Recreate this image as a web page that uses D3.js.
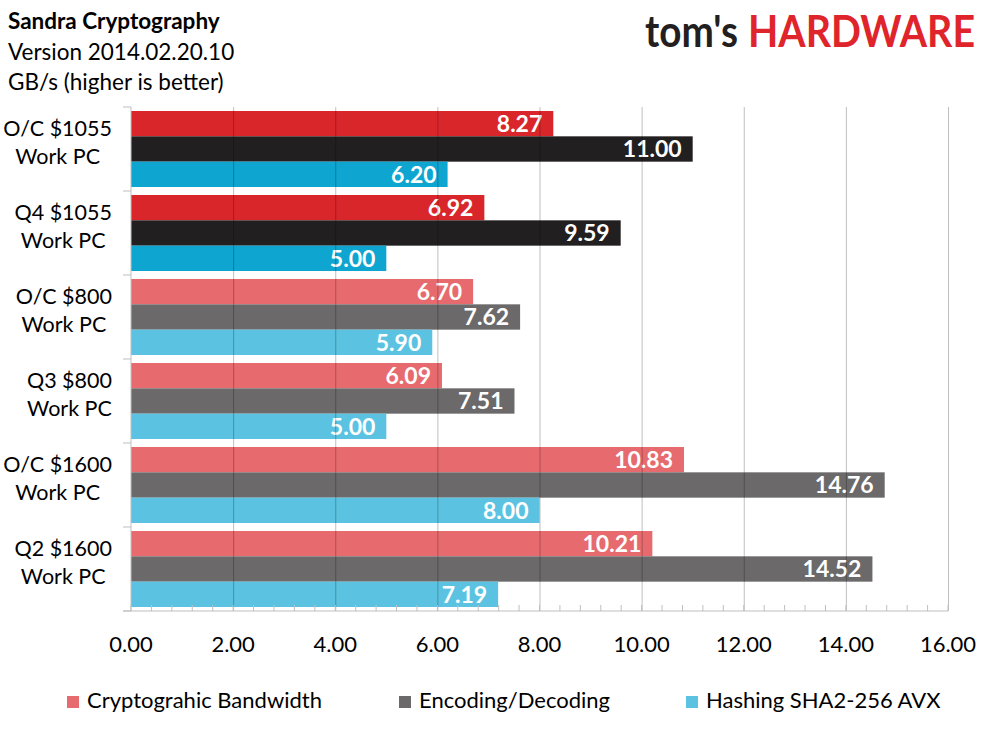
<!DOCTYPE html>
<html>
<head>
<meta charset="utf-8">
<script src="https://cdn.jsdelivr.net/npm/d3@7"></script>
<style>
  body { margin: 0; background: #fff; }
  svg { display: block; font-family: Lato, "Open Sans", sans-serif; }
</style>
</head>
<body>
<div class="chart_area"></div>
<script>
var categories = ["O/C $1055|Work PC", "Q4 $1055|Work PC", "O/C $800|Work PC",
                  "Q3 $800|Work PC", "O/C $1600|Work PC", "Q2 $1600|Work PC"];
var seriesNames = ["Cryptograhic Bandwidth", "Encoding/Decoding", "Hashing SHA2-256 AVX"];
var cryptoBw = [8.27, 6.92, 6.70, 6.09, 10.83, 10.21];
var encoding = [11.00, 9.59, 7.62, 7.51, 14.76, 14.52];
var hashing  = [6.20, 5.00, 5.90, 5.00, 8.00, 7.19];
var xTicks = [0, 2, 4, 6, 8, 10, 12, 14, 16];

// first two systems are drawn in the stronger palette
var strong = ["#d9262b", "#221f20", "#0ea5d1"];
var light  = ["#e66a6e", "#6b696a", "#5bc3e1"];

var width = 989, height = 742;
var margin = {top: 107, right: 41, bottom: 131, left: 131};

var svg = d3.select(".chart_area")
  .append("svg")
  .attr("width", width)
  .attr("height", height);

var x = d3.scaleLinear()
    .domain([0, 16])
    .range([margin.left, width - margin.right]);

var y = d3.scaleBand()
    .domain(categories)
    .range([margin.top, height - margin.bottom])
    .paddingInner(8 / 84)
    .paddingOuter(4 / 84);

var ySub = d3.scaleBand()
    .domain(seriesNames)
    .range([0, y.bandwidth()]);

var rows = categories.map(function(c, i) {
  return {cat: c, idx: i, values: [cryptoBw[i], encoding[i], hashing[i]]};
});

// bars
var groups = svg.selectAll("g.cat")
  .data(rows)
  .enter()
  .append("g")
    .attr("class", "cat")
    .attr("transform", function(d) { return "translate(0," + y(d.cat) + ")"; });

groups.selectAll("rect")
  .data(function(d) {
    return d.values.map(function(v, k) { return {v: v, k: k, idx: d.idx}; });
  })
  .enter()
  .append("rect")
    .attr("x", x(0))
    .attr("y", function(d) { return ySub(seriesNames[d.k]); })
    .attr("width", function(d) { return x(d.v) - x(0); })
    .attr("height", ySub.bandwidth())
    .style("fill", function(d) { return d.idx < 2 ? strong[d.k] : light[d.k]; });

// gridlines over the bars, semi transparent
var y0 = y.range()[0], y1 = y.range()[1];
svg.append("g")
  .attr("transform", "translate(0," + y1 + ")")
  .call(d3.axisBottom(x).tickValues(xTicks.slice(1)).tickSize(-(y1 - y0)).tickFormat(""))
  .call(function(g) {
    g.select(".domain").remove();
    g.selectAll("line").attr("stroke", "#000").attr("stroke-opacity", 0.25);
  });

// minor ticks, inside
var minor = d3.range(0, 16.01, 0.4);
svg.append("g")
  .selectAll("line")
  .data(minor)
  .enter()
  .append("line")
    .attr("x1", function(d) { return x(d); })
    .attr("x2", function(d) { return x(d); })
    .attr("y1", y1 - 6)
    .attr("y2", y1)
    .attr("stroke", "#bfbfbf");

// value labels
groups.selectAll("text.val")
  .data(function(d) {
    return d.values.map(function(v, k) { return {v: v, k: k}; });
  })
  .enter()
  .append("text")
    .attr("class", "val")
    .attr("x", function(d) { return x(d.v) - 11; })
    .attr("y", function(d) { return ySub(seriesNames[d.k]) + ySub.bandwidth() / 2; })
    .attr("dy", "0.36em")
    .attr("text-anchor", "end")
    .style("font-size", "23px")
    .style("font-weight", "bold")
    .style("fill", "#fff")
    .text(function(d) { return d3.format(".2f")(d.v); });

// axis lines
svg.append("line")
  .attr("x1", x(0)).attr("x2", x(0))
  .attr("y1", y0).attr("y2", y1)
  .attr("stroke", "#bfbfbf");
svg.append("line")
  .attr("x1", x(0) - 8).attr("x2", x(16))
  .attr("y1", y1).attr("y2", y1)
  .attr("stroke", "#bfbfbf");

// category separator ticks
var bounds = categories.map(function(c) { return y(c) - y.step() * 4 / 84; });
bounds.push(y1);
svg.append("g")
  .selectAll("line")
  .data(bounds)
  .enter()
  .append("line")
    .attr("x1", x(0) - 8).attr("x2", x(0))
    .attr("y1", function(d) { return d; })
    .attr("y2", function(d) { return d; })
    .attr("stroke", "#bfbfbf");

// x tick labels
svg.append("g")
  .selectAll("text")
  .data(xTicks)
  .enter()
  .append("text")
    .attr("x", function(d) { return x(d); })
    .attr("y", 652)
    .attr("text-anchor", "middle")
    .style("font-size", "22px")
    .style("fill", "#000")
    .text(function(d) { return d3.format(".2f")(d); });

// category labels: block right aligned, lines centred in block
groups.each(function(d) {
  var g = d3.select(this);
  var lines = d.cat.split("|");
  var t = g.selectAll("text.cat")
    .data(lines)
    .enter()
    .append("text")
      .attr("class", "cat")
      .attr("y", function(l, j) { return y.bandwidth() / 2 - 13 + j * 28; })
      .attr("text-anchor", "middle")
      .style("font-size", "21.5px")
      .style("fill", "#000")
      .text(function(l) { return l; });
  var w = 0;
  t.each(function() { w = Math.max(w, this.getComputedTextLength()); });
  t.attr("x", 112 - w / 2);
});

// titles
var titles = ["Sandra Cryptography", "Version 2014.02.20.10", "GB/s (higher is better)"];
svg.selectAll("text.title")
  .data(titles)
  .enter()
  .append("text")
    .attr("class", "title")
    .attr("x", 8)
    .attr("y", function(d, i) { return [29, 60, 90][i]; })
    .style("font-size", "22.5px")
    .style("font-weight", function(d, i) { return i == 0 ? "bold" : "normal"; })
    .style("fill", "#000")
    .text(function(d) { return d; });

// logo
svg.append("text")
  .attr("transform", "translate(645,47) scale(1,1.1)")
  .attr("textLength", 93).attr("lengthAdjust", "spacingAndGlyphs")
  .style("font-size", "40px").style("font-weight", "bold")
  .style("fill", "#231f20")
  .text("tom's");
svg.append("text")
  .attr("transform", "translate(748,47) scale(1,1.1)")
  .attr("textLength", 227).attr("lengthAdjust", "spacingAndGlyphs")
  .style("font-size", "40px").style("font-weight", "bold")
  .style("fill", "#e0242b")
  .text("HARDWARE");

// legend
var legendX = [67, 399, 686];
var leg = svg.selectAll("g.legend")
  .data(seriesNames)
  .enter()
  .append("g")
    .attr("class", "legend")
    .attr("transform", function(d, i) { return "translate(" + legendX[i] + ",696)"; });
leg.append("rect")
  .attr("width", 12).attr("height", 12)
  .style("fill", function(d, i) { return light[i]; });
leg.append("text")
  .attr("x", 20).attr("y", 12)
  .style("font-size", "22px")
  .style("fill", "#000")
  .text(function(d) { return d; });
</script>
</body>
</html>
